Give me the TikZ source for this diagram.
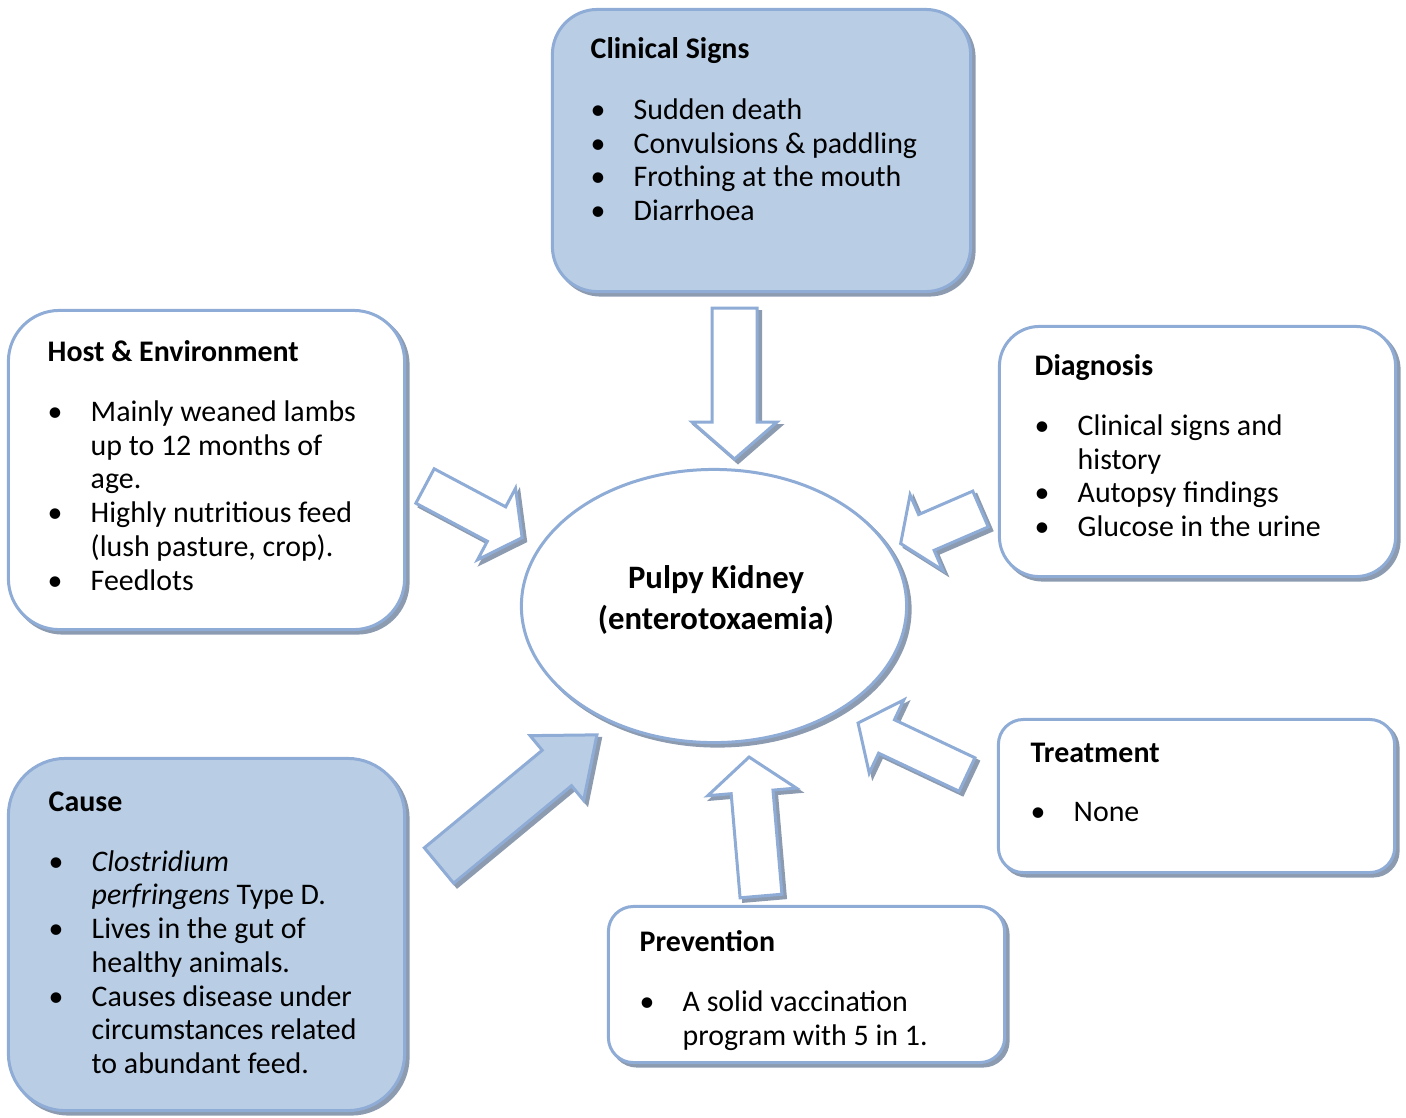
\documentclass[tikz,border=0pt]{standalone}
\usepackage{fontspec}
\setmainfont{Carlito}
\usetikzlibrary{shapes.geometric}

\definecolor{boxblue}{HTML}{B9CDE5}
\definecolor{lineblue}{HTML}{8EACD6}
\definecolor{shadowgray}{HTML}{8C9BB0}

\newcommand{\bul}{\makebox[0.43cm][l]{\textbullet}}
\newcommand{\ind}{\hspace*{0.43cm}}

\tikzset{
	shadowed/.style={preaction={fill=shadowgray, draw=shadowgray, line width=0.03cm,
		transform canvas={shift={(0.035cm,-0.035cm)}}}},
	card/.style={shadowed, draw=lineblue, line width=0.03cm, rounded corners=#1, inner sep=0},
	bluecard/.style={card=#1, fill=boxblue},
	whitecard/.style={card=#1, fill=white},
	listtext/.style={font=\fontsize{8.5pt}{9.6pt}\selectfont, align=left, inner sep=0, anchor=north west},
	whitearrow/.style={shadowed, draw=lineblue, line width=0.03cm, fill=white, line join=miter},
	bluearrow/.style={shadowed, draw=lineblue, line width=0.03cm, fill=boxblue, line join=miter},
	pics/blockarrow/.style n args={5}{code={
		\draw[#5] (0,-#2/2) -- (#1-#4,-#2/2) -- (#1-#4,-#3/2) -- (#1,0)
			-- (#1-#4,#3/2) -- (#1-#4,#2/2) -- (0,#2/2) -- cycle;
	}},
}

\begin{document}
\begin{tikzpicture}[x=0.01cm, y=-0.01cm]
	\useasboundingbox (0,0) rectangle (1406,1117);

	% boxes
	\node[bluecard=0.45cm, minimum width=4.18cm, minimum height=2.82cm] (signs) at (761.5,150.5) {};
	\node[whitecard=0.51cm, minimum width=3.96cm, minimum height=3.19cm] (host) at (206.5,470) {};
	\node[whitecard=0.40cm, minimum width=3.96cm, minimum height=2.50cm] (diag) at (1197.5,451.5) {};
	\node[bluecard=0.57cm, minimum width=3.96cm, minimum height=3.52cm] (cause) at (206.5,934.5) {};
	\node[whitecard=0.25cm, minimum width=3.96cm, minimum height=1.53cm] (treat) at (1196.5,796) {};
	\node[whitecard=0.25cm, minimum width=3.96cm, minimum height=1.56cm] (prev) at (806.5,984.5) {};
	\node[ellipse, shadowed, draw=lineblue, line width=0.03cm, fill=white, inner sep=0,
		minimum width=3.85cm, minimum height=2.73cm] (pk) at (714,606) {};

	% texts
	\node[listtext] (signstext) at (590,37) {\textbf{Clinical Signs}\\[0.27cm]
		\bul Sudden death\\
		\bul Convulsions \& paddling\\
		\bul Frothing at the mouth\\
		\bul Diarrhoea};
	\node[listtext] (hosttext) at (47,340) {\textbf{Host \& Environment}\\[0.26cm]
		\bul Mainly weaned lambs\\
		\ind up to 12 months of\\
		\ind age.\\
		\bul Highly nutritious feed\\
		\ind (lush pasture, crop).\\
		\bul Feedlots};
	\node[listtext] (diagtext) at (1034,354) {\textbf{Diagnosis}\\[0.26cm]
		\bul Clinical signs and\\
		\ind history\\
		\bul Autopsy findings\\
		\bul Glucose in the urine};
	\node[listtext] (causetext) at (48,791) {\textbf{Cause}\\[0.26cm]
		\bul \textit{Clostridium}\\
		\ind \textit{perfringens} Type D.\\
		\bul Lives in the gut of\\
		\ind healthy animals.\\
		\bul Causes disease under\\
		\ind circumstances related\\
		\ind to abundant feed.};
	\node[listtext] (treattext) at (1030,742) {\textbf{Treatment}\\[0.26cm]
		\bul None};
	\node[listtext] (prevtext) at (639,930) {\textbf{Prevention}\\[0.26cm]
		\bul A solid vaccination\\
		\ind program with 5 in 1.};
	\node[font=\fontsize{9.3pt}{11.4pt}\selectfont\bfseries, align=center, inner sep=0] (pktext) at (716,600)
		{Pulpy Kidney\\(enterotoxaemia)};

	% arrows
	\pic[rotate=-90] (arrsigns) at (734.5,308) {blockarrow={151}{45}{85}{37}{whitearrow}};
	\pic[rotate=-28] (arrhost) at (425,486) {blockarrow={110}{39}{81}{29}{whitearrow}};
	\pic[rotate=39.6] (arrcause) at (439,865.5) {blockarrow={205}{46}{84}{52}{bluearrow}};
	\pic[rotate=203.4] (arrdiag) at (980.5,509) {blockarrow={87}{39}{82}{28}{whitearrow}};
	\pic[rotate=154.7] (arrtreat) at (967,774.5) {blockarrow={120.5}{37}{81}{31.5}{whitearrow}};
	\pic[rotate=94.9] (arrprev) at (761,896) {blockarrow={139.5}{42}{89}{35}{whitearrow}};
\end{tikzpicture}
\end{document}
